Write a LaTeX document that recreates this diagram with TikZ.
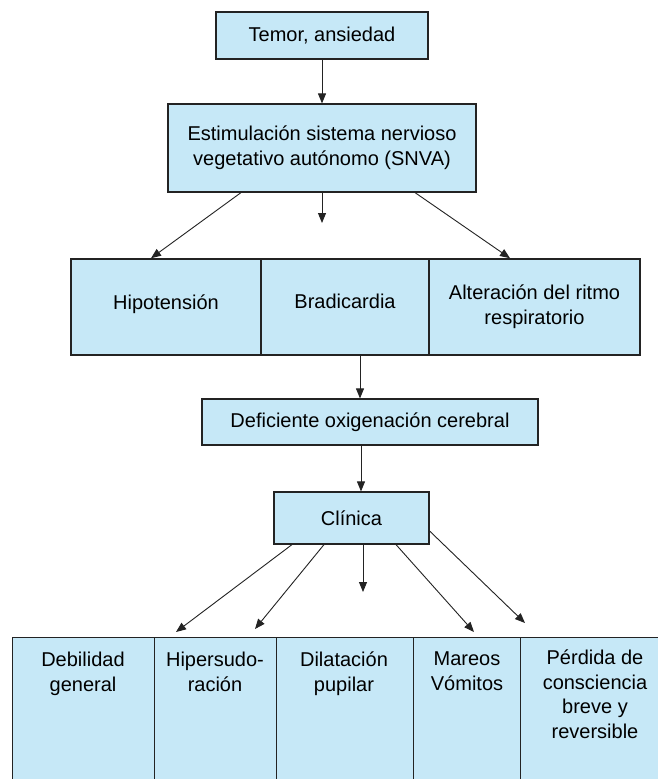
\documentclass[tikz,border=0pt]{standalone}
\usepackage{fontspec}
\setmainfont{Liberation Sans}
\usetikzlibrary{arrows.meta,calc}
\definecolor{boxblue}{RGB}{198,232,247}
\definecolor{linegray}{RGB}{35,35,35}
\begin{document}
\begin{tikzpicture}[x=1pt,y=-1pt,
  box/.style={draw=linegray,fill=boxblue,line width=1.2pt,inner sep=0pt,align=center,
              font=\fontsize{20}{25}\selectfont},
  rowbox/.style={box,line width=1.6pt,minimum height=96pt},
  arr/.style={draw=linegray,line width=0.9pt,-{Triangle[length=10pt,width=8pt]}},
  lbl/.style={align=center,font=\fontsize{20}{24.5}\selectfont,inner sep=0pt,anchor=north}]
\useasboundingbox (0,0) rectangle (658,779);
\fill[white] (0,0) rectangle (658,779);
% top
\node[box,minimum width=212pt,minimum height=47pt] (top) at (322,35.5) {Temor, ansiedad};
\node[box,minimum width=308pt,minimum height=88pt] (snva) at (322,148)
  {Estimulación sistema nervioso\\vegetativo autónomo (SNVA)};
% row 1
\node[rowbox,minimum width=190pt,text height=14pt,text depth=10pt] (hipo) at (166,307) {Hipotensión};
\node[rowbox,minimum width=168pt,text height=14pt,text depth=12pt] (brad) at (345,307) {Bradicardia};
\node[rowbox,minimum width=211pt] (alt) at (534.5,307) {Alteración del ritmo\\respiratorio};
% middle
\node[box,minimum width=336pt,minimum height=46pt] (defi) at (370,422) {Deficiente oxigenación cerebral};
\node[box,minimum width=155pt,minimum height=52pt] (clin) at (351.5,518) {Clínica};
% bottom row
\node[box,anchor=north west,minimum width=142pt,minimum height=170pt] (b1) at (12,637) {};
\node[box,anchor=north west,minimum width=122pt,minimum height=170pt] (b2) at (154,637) {};
\node[box,anchor=north west,minimum width=137pt,minimum height=170pt] (b3) at (276,637) {};
\node[box,anchor=north west,minimum width=107pt,minimum height=170pt] (b4) at (413,637) {};
\node[box,anchor=north west,minimum width=160pt,minimum height=170pt] (b5) at (520,637) {};
\node[lbl] (t1) at (83,652) {Debilidad\\general};
\node[lbl] (t2) at (215,652) {Hipersudo-\\ración};
\node[lbl] (t3) at (344,652) {Dilatación\\pupilar};
\node[lbl] (t4) at (467,652) {Mareos\\Vómitos};
\node[lbl] (t5) at (595,650) {Pérdida de\\consciencia\\breve y\\reversible};
% free ends
\coordinate (m1) at (322,223);
\coordinate (e1) at (176,632);
\coordinate (e2) at (255,629);
\coordinate (e3) at (363,592);
\coordinate (e4) at (474,632);
\coordinate (e5) at (525,623);
% connectors
\draw[arr] (top.south) -- (snva.north);
\draw[arr] ([xshift=-81pt]snva.south) -- ([xshift=-15pt]hipo.north);
\draw[arr] (snva.south) -- (m1);
\draw[arr] ([xshift=93pt]snva.south) -- ([xshift=-24.5pt]alt.north);
\draw[arr] ([xshift=15pt]brad.south) -- ([xshift=-10pt]defi.north);
\draw[arr] ([xshift=-9pt]defi.south) -- ([xshift=9.5pt]clin.north);
\draw[arr] ([xshift=-59.5pt]clin.south) -- (e1);
\draw[arr] ([xshift=-27.5pt]clin.south) -- (e2);
\draw[arr] ([xshift=11.5pt]clin.south) -- (e3);
\draw[arr] ([xshift=44.5pt]clin.south) -- (e4);
\draw[arr] ([yshift=-13pt]clin.east) -- (e5);
\end{tikzpicture}
\end{document}
